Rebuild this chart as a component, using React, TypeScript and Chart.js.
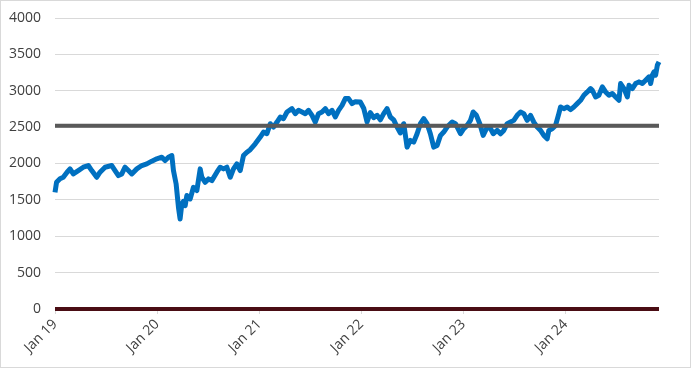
import React, { useEffect, useRef } from "react";
import { Chart, registerables } from "chart.js";

Chart.register(...registerables);

// time as decimal years
const years: number[] = [
  2019.000, 2019.015, 2019.049, 2019.081, 2019.118, 2019.147, 2019.179, 2019.228, 2019.277, 2019.326,
  2019.360, 2019.409, 2019.441, 2019.490, 2019.556, 2019.588, 2019.621, 2019.654, 2019.686, 2019.719,
  2019.752, 2019.801, 2019.850, 2019.899, 2019.948, 2019.997, 2020.046, 2020.078, 2020.111, 2020.144,
  2020.160, 2020.186, 2020.209, 2020.225, 2020.242, 2020.258, 2020.275, 2020.291, 2020.324, 2020.356,
  2020.389, 2020.422, 2020.438, 2020.471, 2020.503, 2020.536, 2020.585, 2020.618, 2020.650, 2020.683,
  2020.716, 2020.748, 2020.781, 2020.814, 2020.846, 2020.879, 2020.912, 2020.961, 2021.010, 2021.042,
  2021.075, 2021.108, 2021.140, 2021.174, 2021.206, 2021.238, 2021.272, 2021.320, 2021.353, 2021.385,
  2021.419, 2021.451, 2021.483, 2021.517, 2021.549, 2021.581, 2021.615, 2021.647, 2021.679, 2021.713,
  2021.745, 2021.777, 2021.811, 2021.843, 2021.875, 2021.909, 2021.941, 2021.990, 2022.023, 2022.056,
  2022.088, 2022.121, 2022.154, 2022.186, 2022.219, 2022.252, 2022.284, 2022.317, 2022.350, 2022.382,
  2022.415, 2022.448, 2022.480, 2022.513, 2022.546, 2022.578, 2022.611, 2022.644, 2022.676, 2022.709,
  2022.742, 2022.775, 2022.807, 2022.840, 2022.889, 2022.922, 2022.971, 2023.003, 2023.036, 2023.069,
  2023.095, 2023.127, 2023.160, 2023.193, 2023.225, 2023.258, 2023.291, 2023.330, 2023.363, 2023.395,
  2023.428, 2023.461, 2023.493, 2023.526, 2023.559, 2023.591, 2023.624, 2023.657, 2023.689, 2023.722,
  2023.755, 2023.787, 2023.820, 2023.836, 2023.869, 2023.902, 2023.934, 2023.951, 2023.983, 2024.016,
  2024.049, 2024.081, 2024.114, 2024.147, 2024.179, 2024.213, 2024.245, 2024.262, 2024.294, 2024.326,
  2024.360, 2024.392, 2024.425, 2024.458, 2024.490, 2024.523, 2024.539, 2024.572, 2024.605, 2024.621,
  2024.654, 2024.686, 2024.719, 2024.752, 2024.784, 2024.817, 2024.833, 2024.850, 2024.866, 2024.882,
  2024.899, 2024.915,
];

const values: number[] = [
  1604, 1742, 1790, 1811, 1880, 1926, 1857, 1903, 1949, 1972,
  1903, 1811, 1880, 1949, 1972, 1903, 1834, 1857, 1949, 1903,
  1857, 1926, 1972, 1995, 2032, 2064, 2087, 2041, 2087, 2110,
  1903, 1720, 1397, 1237, 1444, 1480, 1420, 1559, 1513, 1673,
  1628, 1926, 1811, 1742, 1788, 1765, 1880, 1949, 1926, 1949,
  1811, 1926, 1995, 1903, 2110, 2156, 2190, 2270, 2363, 2432,
  2409, 2547, 2501, 2570, 2639, 2616, 2708, 2754, 2685, 2731,
  2708, 2685, 2731, 2662, 2570, 2685, 2708, 2754, 2685, 2731,
  2639, 2731, 2800, 2892, 2892, 2823, 2850, 2846, 2760, 2570,
  2700, 2630, 2662, 2600, 2685, 2754, 2639, 2600, 2501, 2420,
  2547, 2225, 2317, 2294, 2409, 2547, 2616, 2547, 2409, 2225,
  2248, 2386, 2432, 2501, 2570, 2547, 2409, 2478, 2524, 2593,
  2708, 2662, 2547, 2386, 2478, 2501, 2409, 2455, 2409, 2455,
  2547, 2570, 2593, 2662, 2708, 2685, 2593, 2662, 2570, 2501,
  2455, 2386, 2340, 2455, 2478, 2524, 2685, 2777, 2754, 2777,
  2740, 2777, 2823, 2869, 2938, 2984, 3030, 3007, 2915, 2938,
  3053, 2984, 2938, 2961, 2915, 2869, 3099, 3030, 2915, 3076,
  3030, 3099, 3122, 3099, 3145, 3191, 3099, 3214, 3260, 3214,
  3352, 3398,
];

const averageLevel = 2520;
const zeroLevel = 0;
const xStart = 2019;
const xEnd = 2024.915;
const tickYears: number[] = [2019, 2020, 2021, 2022, 2023, 2024];
const yTicks: number[] = [0, 500, 1000, 1500, 2000, 2500, 3000, 3500, 4000];

export default function App() {
  const ref = useRef<HTMLCanvasElement | null>(null);

  useEffect(() => {
    document.body.style.margin = "0";
    if (!ref.current) return;
    const font = { family: "'Open Sans', 'Liberation Sans', sans-serif", size: 14 };
    const chart = new Chart(ref.current, {
      type: "line",
      data: {
        datasets: [
          {
            label: "Average",
            data: [
              { x: xStart, y: averageLevel },
              { x: xEnd, y: averageLevel },
            ],
            borderColor: "#595959",
            borderWidth: 4,
            pointRadius: 0,
            clip: false,
            order: 0,
          },
          {
            label: "Zero",
            data: [
              { x: xStart, y: zeroLevel },
              { x: xEnd, y: zeroLevel },
            ],
            borderColor: "#4a0d14",
            borderWidth: 4,
            pointRadius: 0,
            clip: false,
            order: 0,
          },
          {
            label: "Value",
            data: years.map((x, i) => ({ x, y: values[i] })),
            borderColor: "#0070C0",
            borderWidth: 5,
            pointRadius: 0,
            tension: 0,
            borderJoinStyle: "round",
            clip: false,
            order: 1,
          },
        ],
      },
      options: {
        responsive: false,
        animation: false,
        layout: { padding: { left: 8, right: 31, top: 17, bottom: 9 } },
        plugins: { legend: { display: false }, tooltip: { enabled: false } },
        scales: {
          x: {
            type: "linear",
            min: xStart,
            max: xEnd,
            afterBuildTicks: (axis: any) => {
              axis.ticks = tickYears.map((v) => ({ value: v }));
            },
            afterFit: (axis: any) => {
              axis.paddingLeft = 0;
              axis.paddingRight = 0;
            },
            ticks: {
              autoSkip: false,
              maxRotation: 45,
              minRotation: 45,
              color: "#404040",
              font,
              padding: 2,
              callback: (v: any) => "Jan " + String(v).slice(2),
            },
            grid: {
              drawOnChartArea: false,
              drawTicks: true,
              tickLength: 5,
              color: "#d9d9d9",
            },
            border: { display: false },
          },
          y: {
            min: 0,
            max: 4000,
            afterBuildTicks: (axis: any) => {
              axis.ticks = yTicks.map((v) => ({ value: v }));
            },
            afterFit: (axis: any) => {
              axis.width = 46;
              axis.paddingTop = 0;
              axis.paddingBottom = 0;
            },
            ticks: {
              color: "#404040",
              font,
              padding: 14,
              callback: (v: any) => String(v),
            },
            grid: { color: "#d9d9d9", drawTicks: false },
            border: { display: false },
          },
        },
      },
    });
    return () => chart.destroy();
  }, []);

  return (
    <div
      style={{
        width: 691,
        height: 368,
        boxSizing: "border-box",
        border: "1px solid #d9d9d9",
        background: "#fff",
      }}
    >
      <canvas ref={ref} width={689} height={366} />
    </div>
  );
}
